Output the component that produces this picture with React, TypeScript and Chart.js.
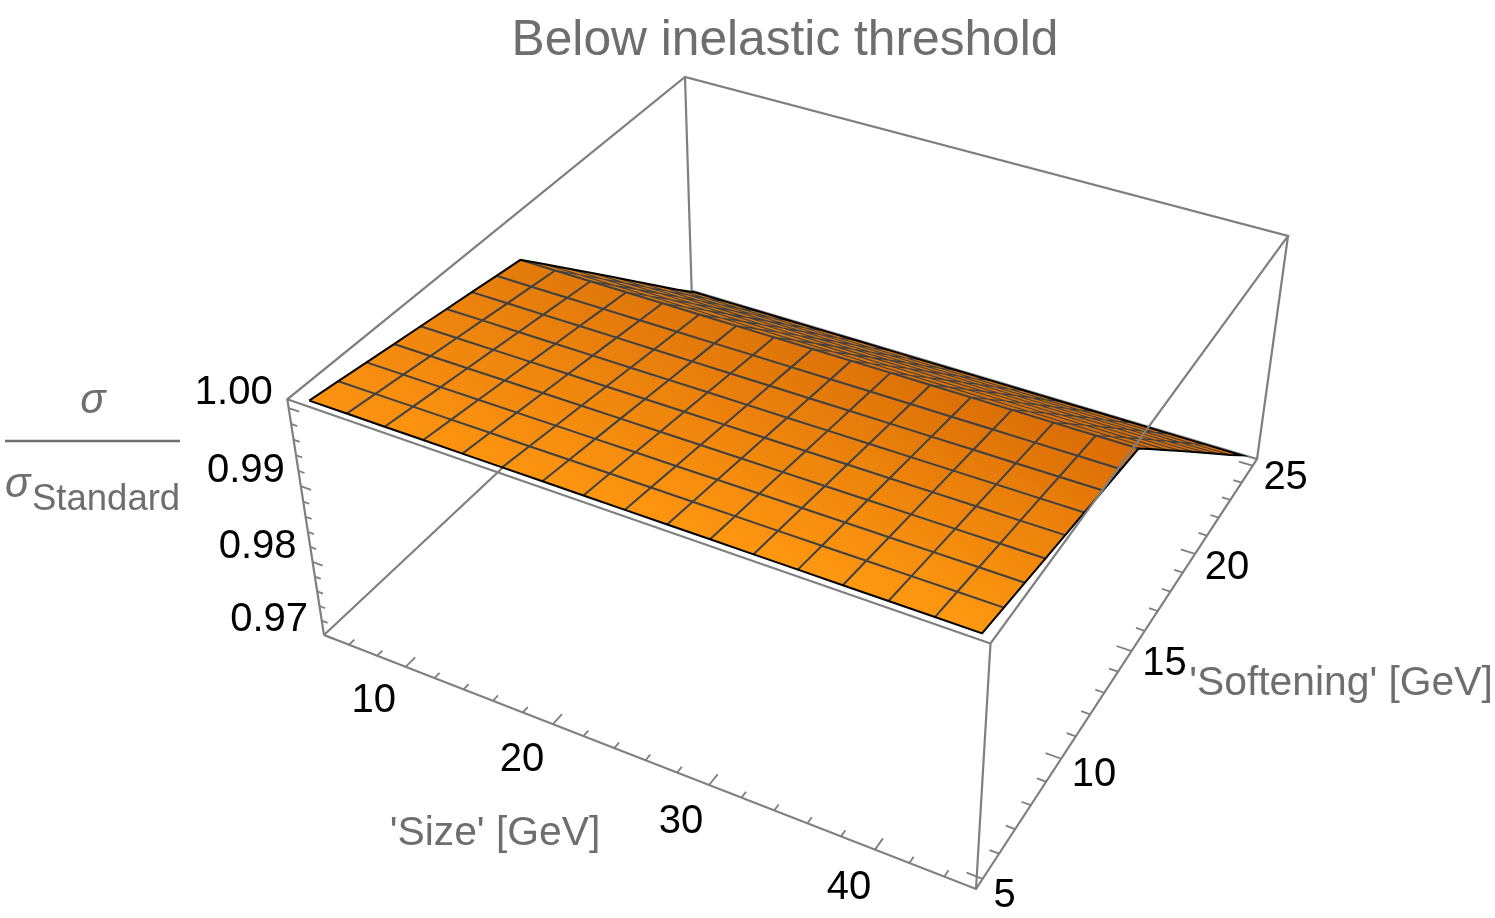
import React, { useEffect, useRef } from "react";
import { Chart, registerables } from "chart.js";

Chart.register(...registerables);

// ---- data
const titleText = "Below inelastic threshold";
const sizeAxisTitle = "'Size' [GeV]";
const softeningAxisTitle = "'Softening' [GeV]";
const sizeMesh = [5, 7.5, 10, 12.5, 15, 17.5, 20, 22.5, 25, 27.5, 30, 32.5, 35, 37.5, 40, 42.5, 45];
const softeningMesh = [5, 6.25, 7.5, 8.75, 10, 11.25, 12.5, 13.75, 15, 16.25, 17.5, 18.75, 20, 21.25, 22.5, 23.75, 25];
const sigmaBySoftening = [1.0005, 1.0, 0.9995, 0.999, 0.9985, 0.998, 0.9975, 0.997, 0.9965, 0.9933, 0.9901, 0.9869, 0.9837, 0.9805, 0.9773, 0.9741, 0.971];
const sizeMajorTicks = [10, 20, 30, 40];
const sizeMinorTicks = [6, 8, 12, 14, 16, 18, 22, 24, 26, 28, 32, 34, 36, 38, 42, 44];
const softeningMajorTicks = [5, 10, 15, 20, 25];
const softeningMinorTicks = [6, 7, 8, 9, 11, 12, 13, 14, 16, 17, 18, 19, 21, 22, 23, 24];
const sigmaMajorTicks = [0.97, 0.98, 0.99, 1.0];
const sigmaMinorTicks = [0.972, 0.974, 0.976, 0.978, 0.982, 0.984, 0.986, 0.988, 0.992, 0.994, 0.996, 0.998];
const sigmaTickLabels = ["0.97", "0.98", "0.99", "1.00"];

// ---- axis box and camera
const SIZE_RANGE = [4.2, 45.8];
const SOFT_RANGE = [4.6, 25.4];
const SIGMA_RANGE = [0.97, 1.0011];
type P = [number, number];
const TOP_CORNERS: P[] = [[287.3, 399.3], [990.5, 643.5], [1288, 236], [685, 77]];
const FLOOR_CORNERS: P[] = [[324, 635], [976, 889], [1257, 459], [691.7, 290.7]];
const DEPTH_K = 0.95;
const FOLD_ROW = 8;

// label nudges from each tick, px
const SIZE_LABEL_NUDGE: P[] = [[-32, 45], [-31, 47], [-28, 48], [-26, 49]];
const SOFT_LABEL_NUDGE: P[] = [[22, 28], [33, 27], [33, 24], [32, 25], [33, 23]];

function homography(q: P[]) {
  const [[x0, y0], [x1, y1], [x2, y2], [x3, y3]] = q;
  const dx1 = x1 - x2, dx2 = x3 - x2, dx3 = x0 - x1 + x2 - x3;
  const dy1 = y1 - y2, dy2 = y3 - y2, dy3 = y0 - y1 + y2 - y3;
  const den = dx1 * dy2 - dx2 * dy1;
  const g = (dx3 * dy2 - dx2 * dy3) / den;
  const h = (dx1 * dy3 - dx3 * dy1) / den;
  const a = x1 - x0 + g * x1, b = x3 - x0 + h * x3;
  const d = y1 - y0 + g * y1, e = y3 - y0 + h * y3;
  return (u: number, v: number): P => {
    const w = g * u + h * v + 1;
    return [(a * u + b * v + x0) / w, (d * u + e * v + y0) / w];
  };
}
const topPlane = homography(TOP_CORNERS);
const floorPlane = homography(FLOOR_CORNERS);

function project(size: number, soft: number, sigma: number) {
  const u = (size - SIZE_RANGE[0]) / (SIZE_RANGE[1] - SIZE_RANGE[0]);
  const v = (soft - SOFT_RANGE[0]) / (SOFT_RANGE[1] - SOFT_RANGE[0]);
  const w0 = (sigma - SIGMA_RANGE[0]) / (SIGMA_RANGE[1] - SIGMA_RANGE[0]);
  const w = (w0 * DEPTH_K) / (1 + w0 * (DEPTH_K - 1));
  const t = topPlane(u, v), b = floorPlane(u, v);
  return { x: b[0] + (t[0] - b[0]) * w, y: b[1] + (t[1] - b[1]) * w };
}

const GAP = { x: NaN, y: NaN };
const BOX_GREY = "#7f7f7f";
const LABEL_GREY = "#6e6e6e";
const FONT = '"Liberation Sans"';

// surface shade at the four flat corners: rgb
const SHADE_FRONT_LEFT = [252, 146, 16];
const SHADE_FRONT_RIGHT = [255, 153, 16];
const SHADE_BACK_LEFT = [226, 122, 11];
const SHADE_BACK_RIGHT = [217, 108, 5];

function shade(i: number, j: number) {
  const u = i / (sizeMesh.length - 1);
  const v = Math.min(1, j / FOLD_ROW);
  const c = [0, 1, 2].map((k) => {
    const front = SHADE_FRONT_LEFT[k] + (SHADE_FRONT_RIGHT[k] - SHADE_FRONT_LEFT[k]) * u;
    const back = SHADE_BACK_LEFT[k] + (SHADE_BACK_RIGHT[k] - SHADE_BACK_LEFT[k]) * u;
    return Math.round(front + (back - front) * v);
  });
  return `rgb(${c[0]},${c[1]},${c[2]})`;
}

const lineSet = (data: any[], color: string, width: number) => ({
  data,
  showLine: true,
  borderColor: color,
  borderWidth: width,
  pointRadius: 0,
  fill: false,
  tension: 0,
  spanGaps: false,
});

function buildDatasets(ctx: CanvasRenderingContext2D) {
  const [sMin, sMax] = SIZE_RANGE;
  const [fMin, fMax] = SOFT_RANGE;
  const [zMin, zMax] = SIGMA_RANGE;
  const paint: any[] = [];

  // edges behind the surface
  paint.push(
    lineSet(
      [
        project(sMin, fMin, zMin), project(sMin, fMax, zMin), project(sMax, fMax, zMin), GAP,
        project(sMin, fMax, zMin), project(sMin, fMax, zMax),
      ],
      BOX_GREY,
      2.2
    )
  );

  // surface cells, back to front
  for (let j = softeningMesh.length - 2; j >= 0; j--) {
    for (let i = 0; i < sizeMesh.length - 1; i++) {
      const a = project(sizeMesh[i], softeningMesh[j], sigmaBySoftening[j]);
      const b = project(sizeMesh[i + 1], softeningMesh[j], sigmaBySoftening[j]);
      const c = project(sizeMesh[i + 1], softeningMesh[j + 1], sigmaBySoftening[j + 1]);
      const d = project(sizeMesh[i], softeningMesh[j + 1], sigmaBySoftening[j + 1]);
      const grad = ctx.createLinearGradient((a.x + b.x) / 2, (a.y + b.y) / 2, (c.x + d.x) / 2, (c.y + d.y) / 2);
      grad.addColorStop(0, shade(i, j));
      grad.addColorStop(1, shade(i, j + 1));
      paint.push({
        data: [a, b, c, d, a],
        showLine: true,
        fill: "shape",
        backgroundColor: grad,
        borderColor: "rgba(0,0,0,0)",
        borderWidth: 0,
        pointRadius: 0,
        tension: 0,
      });
    }
  }

  // mesh lines: the flat part and the steep, foreshortened band behind the fold
  const meshFlat: any[] = [];
  const meshBand: any[] = [];
  for (let j = 1; j < softeningMesh.length - 1; j++) {
    const target = j <= FOLD_ROW ? meshFlat : meshBand;
    sizeMesh.forEach((s) => target.push(project(s, softeningMesh[j], sigmaBySoftening[j])));
    target.push(GAP);
  }
  for (let i = 1; i < sizeMesh.length - 1; i++) {
    softeningMesh.forEach((f, j) => {
      if (j <= FOLD_ROW) meshFlat.push(project(sizeMesh[i], f, sigmaBySoftening[j]));
      if (j >= FOLD_ROW) meshBand.push(project(sizeMesh[i], f, sigmaBySoftening[j]));
    });
    meshFlat.push(GAP);
    meshBand.push(GAP);
  }
  paint.push(lineSet(meshBand, "#404040", 1.1));
  paint.push(lineSet(meshFlat, "#404040", 2));

  // surface outline
  const last = softeningMesh.length - 1;
  const outline: any[] = [];
  sizeMesh.forEach((s) => outline.push(project(s, softeningMesh[0], sigmaBySoftening[0])));
  softeningMesh.forEach((f, j) => outline.push(project(sizeMesh[sizeMesh.length - 1], f, sigmaBySoftening[j])));
  [...sizeMesh].reverse().forEach((s) => outline.push(project(s, softeningMesh[last], sigmaBySoftening[last])));
  [...softeningMesh].reverse().forEach((f, k) => outline.push(project(sizeMesh[0], f, sigmaBySoftening[last - k])));
  paint.push(lineSet(outline, "#000000", 2));

  // edges in front of the surface
  paint.push(
    lineSet(
      [
        project(sMin, fMin, zMin), project(sMin, fMin, zMax), project(sMin, fMax, zMax),
        project(sMax, fMax, zMax), project(sMax, fMin, zMax), project(sMin, fMin, zMax), GAP,
        project(sMin, fMin, zMin), project(sMax, fMin, zMin), project(sMax, fMax, zMin),
        project(sMax, fMax, zMax), GAP,
        project(sMax, fMin, zMin), project(sMax, fMin, zMax),
      ],
      BOX_GREY,
      2.2
    )
  );

  // ticks
  const ticks: any[] = [];
  const fSpan = fMax - fMin, sSpan = sMax - sMin;
  sizeMajorTicks.forEach((s) => ticks.push(project(s, fMin, zMin), project(s, fMin + fSpan * 0.022, zMin), GAP));
  sizeMinorTicks.forEach((s) => ticks.push(project(s, fMin, zMin), project(s, fMin + fSpan * 0.012, zMin), GAP));
  softeningMajorTicks.forEach((f) => ticks.push(project(sMax, f, zMin), project(sMax - sSpan * 0.022, f, zMin), GAP));
  softeningMinorTicks.forEach((f) => ticks.push(project(sMax, f, zMin), project(sMax - sSpan * 0.013, f, zMin), GAP));
  sigmaMajorTicks.forEach((z) => ticks.push(project(sMin, fMin, z), project(sMin + sSpan * 0.017, fMin, z), GAP));
  sigmaMinorTicks.forEach((z) => ticks.push(project(sMin, fMin, z), project(sMin + sSpan * 0.01, fMin, z), GAP));
  paint.push(lineSet(ticks, BOX_GREY, 1.8));

  const n = paint.length;
  return paint.map((d, k) => ({ ...d, order: n - k }));
}

const textPlugin = {
  id: "plotText",
  afterDraw(chart: any) {
    const ctx: CanvasRenderingContext2D = chart.ctx;
    const [sMin, sMax] = SIZE_RANGE;
    const [fMin] = SOFT_RANGE;
    const [zMin] = SIGMA_RANGE;
    const put = (t: string, x: number, y: number, font: string, color: string, align: CanvasTextAlign) => {
      ctx.font = font;
      ctx.fillStyle = color;
      ctx.textAlign = align;
      ctx.textBaseline = "alphabetic";
      ctx.fillText(t, x, y);
    };
    ctx.save();
    const tick = `40px ${FONT}`;
    sizeMajorTicks.forEach((s, k) => {
      const p = project(s, fMin, zMin);
      put(String(s), p.x + SIZE_LABEL_NUDGE[k][0], p.y + SIZE_LABEL_NUDGE[k][1], tick, "#000", "center");
    });
    softeningMajorTicks.forEach((f, k) => {
      const p = project(sMax, f, zMin);
      put(String(f), p.x + SOFT_LABEL_NUDGE[k][0], p.y + SOFT_LABEL_NUDGE[k][1], tick, "#000", "center");
    });
    sigmaMajorTicks.forEach((z, k) => {
      const p = project(sMin, fMin, z);
      put(sigmaTickLabels[k], p.x - 16, p.y - 4, tick, "#000", "right");
    });
    put(titleText, 785, 55, `49.7px ${FONT}`, LABEL_GREY, "center");
    put(sizeAxisTitle, 495, 845, `40.8px ${FONT}`, LABEL_GREY, "center");
    put(softeningAxisTitle, 1341, 695, `40.8px ${FONT}`, LABEL_GREY, "center");
    // the sigma / sigma_Standard fraction
    put("σ", 93, 413, `italic 42px ${FONT}`, LABEL_GREY, "center");
    ctx.strokeStyle = LABEL_GREY;
    ctx.lineWidth = 2.5;
    ctx.beginPath();
    ctx.moveTo(5, 441);
    ctx.lineTo(180, 441);
    ctx.stroke();
    put("σ", 5, 497, `italic 42px ${FONT}`, LABEL_GREY, "left");
    put("Standard", 32, 510, `36.5px ${FONT}`, LABEL_GREY, "left");
    ctx.restore();
  },
};

export default function App() {
  const ref = useRef<HTMLCanvasElement>(null);
  useEffect(() => {
    const canvas = ref.current!;
    const ctx = canvas.getContext("2d")!;
    const chart = new Chart(canvas, {
      type: "scatter",
      data: { datasets: buildDatasets(ctx) as any },
      options: {
        animation: false,
        responsive: false,
        devicePixelRatio: 1,
        layout: { padding: 0 },
        events: [],
        plugins: { legend: { display: false }, tooltip: { enabled: false }, title: { display: false } },
        scales: {
          x: { type: "linear", min: 0, max: 1495, display: false },
          y: { type: "linear", min: 0, max: 918, reverse: true, display: false },
        },
      },
      plugins: [textPlugin],
    });
    return () => chart.destroy();
  }, []);
  return (
    <div style={{ position: "absolute", left: 0, top: 0, width: 1495, height: 918, background: "#fff" }}>
      <canvas ref={ref} width={1495} height={918} style={{ display: "block" }} />
    </div>
  );
}
